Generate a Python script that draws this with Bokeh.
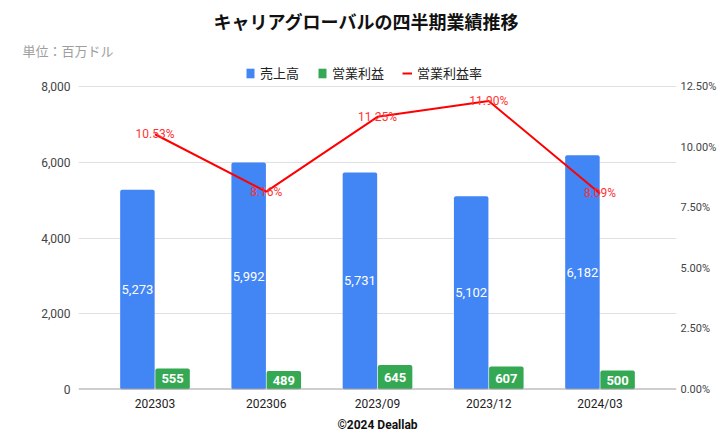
from bokeh.plotting import figure
from bokeh.models import (ColumnDataSource, FactorRange, Range1d, LinearAxis, FixedTicker,
                          NumeralTickFormatter, PrintfTickFormatter, Title, Legend, LegendItem, Span)
from bokeh.transform import dodge
from bokeh.core.properties import value
from bokeh.embed import file_html
from bokeh.resources import INLINE

# ---- data ----
periods = ["202303", "202306", "2023/09", "2023/12", "2024/03"]
revenue = [5273, 5992, 5731, 5102, 6182]
op_profit = [555, 489, 645, 607, 500]
op_margin = [10.53, 8.16, 11.25, 11.90, 8.09]
left_ticks = [0, 2000, 4000, 6000, 8000]
right_ticks = [0, 2.5, 5.0, 7.5, 10.0, 12.5]

title_text = "キャリアグローバルの四半期業績推移"
unit_text = "単位：百万ドル"
footer_text = "©2024 Deallab"

BLUE = "#4285F4"
GREEN = "#34A853"
RED = "#FF0000"
JP = "Noto Sans CJK JP"
ROBOTO = "Roboto"

# axis tops: 8,000 / 12.50% sit 303px above the baseline; frame extends 24px higher for the legend
AX_H, LEG_H = 303, 24
y_top = 8000 * (AX_H + LEG_H) / AX_H
pct_top = 12.5 * (AX_H + LEG_H) / AX_H

src = ColumnDataSource(dict(
    period=periods,
    revenue=revenue,
    profit=op_profit,
    margin=op_margin,
    rev_mid=[v / 2 for v in revenue],
    prof_mid=[v / 2 for v in op_profit],
    rev_lbl=[f"{v:,}" for v in revenue],
    prof_lbl=[f"{v:,}" for v in op_profit],
    margin_lbl=[f"{v:.2f}%" for v in op_margin],
))

p = figure(x_range=FactorRange(factors=periods, range_padding=0.075),
           y_range=Range1d(0, y_top),
           frame_width=598, frame_height=AX_H + LEG_H,
           min_border_left=78, min_border_right=36,
           min_border_top=62, min_border_bottom=50,
           output_backend="svg", toolbar_location=None, tools="")
p.outline_line_color = None
p.background_fill_color = "white"
p.border_fill_color = "white"
p.extra_y_ranges = {"pct": Range1d(0, pct_top)}

# bars
rev_r = p.vbar(x=dodge("period", -0.158, range=p.x_range), top="revenue", width=0.31,
               source=src, fill_color=BLUE, line_color=None, border_radius=2)
prof_r = p.vbar(x=dodge("period", 0.158, range=p.x_range), top="profit", width=0.31,
                source=src, fill_color=GREEN, line_color=None, border_radius=2)

# bar value labels
p.text(x=dodge("period", -0.158, range=p.x_range), y="rev_mid", text="rev_lbl", source=src,
       text_color="white", text_font=value(ROBOTO), text_font_size="13px",
       text_align="center", text_baseline="middle")
p.text(x=dodge("period", 0.158, range=p.x_range), y="prof_mid", text="prof_lbl", source=src,
       text_color="white", text_font=value(ROBOTO), text_font_size="13px",
       text_font_style="bold", text_align="center", text_baseline="middle")

# margin line
line_r = p.line(x="period", y="margin", source=src, y_range_name="pct",
                line_color=RED, line_width=2)
p.text(x="period", y="margin", text="margin_lbl", source=src, y_range_name="pct",
       text_color="#FF3333", text_font=value(ROBOTO), text_font_size="12px",
       text_align="center", text_baseline="middle")

# baseline
p.add_layout(Span(location=0, dimension="width", line_color="#9E9E9E", line_width=2))

# axes
for ax in (p.yaxis[0], p.xaxis[0]):
    ax.axis_line_color = None
    ax.major_tick_line_color = None
    ax.minor_tick_line_color = None
    ax.major_tick_out = 0
    ax.major_tick_in = 0
    ax.minor_tick_out = 0
    ax.major_label_text_font = ROBOTO

p.yaxis.ticker = FixedTicker(ticks=left_ticks)
p.yaxis.formatter = NumeralTickFormatter(format="0,0")
p.yaxis.major_label_standoff = 8
p.yaxis.major_label_text_font_size = "12px"
p.yaxis.major_label_text_color = "#444444"

ax_r = LinearAxis(y_range_name="pct", ticker=FixedTicker(ticks=right_ticks),
                  formatter=PrintfTickFormatter(format="%.2f%%"))
ax_r.axis_line_color = None
ax_r.major_tick_line_color = None
ax_r.minor_tick_line_color = None
ax_r.major_tick_out = 0
ax_r.major_tick_in = 0
ax_r.minor_tick_out = 0
ax_r.major_label_standoff = 4
ax_r.major_label_text_font = ROBOTO
ax_r.major_label_text_font_size = "11px"
ax_r.major_label_text_color = "#444444"
p.add_layout(ax_r, "right")

p.xaxis.major_label_standoff = 7
p.xaxis.major_label_text_font_size = "12px"
p.xaxis.major_label_text_color = "#222222"

p.xgrid.grid_line_color = None
p.ygrid.ticker = FixedTicker(ticks=left_ticks)
p.ygrid.grid_line_color = "#E0E0E0"
p.ygrid.grid_line_width = 1

# legend inside the top strip of the frame
legend = Legend(items=[LegendItem(label="売上高", renderers=[rev_r]),
                       LegendItem(label="営業利益", renderers=[prof_r]),
                       LegendItem(label="営業利益率", renderers=[line_r])],
                orientation="horizontal", location=(167, AX_H + 4),
                label_text_font=JP, label_text_font_size="13px", label_text_color="#222222",
                label_height=16, glyph_width=10, glyph_height=12, label_standoff=5, spacing=18,
                padding=0, margin=0, border_line_color=None, background_fill_alpha=0)
p.add_layout(legend)

# unit note, then title (further out)
p.add_layout(Title(text=unit_text, align="left", offset=-56, standoff=6,
                   text_font=JP, text_font_size="13px", text_font_style="normal",
                   text_color="#9E9E9E"), "above")
p.add_layout(Title(text=title_text, align="left", offset=135, standoff=4,
                   text_font=JP, text_font_size="18px", text_font_style="bold",
                   text_color="#111111"), "above")

# footer
p.add_layout(Title(text=footer_text, align="center", standoff=4,
                   text_font=ROBOTO, text_font_size="12px", text_font_style="bold",
                   text_color="#111111"), "below")

open("out.html", "w").write(file_html(p, INLINE))
